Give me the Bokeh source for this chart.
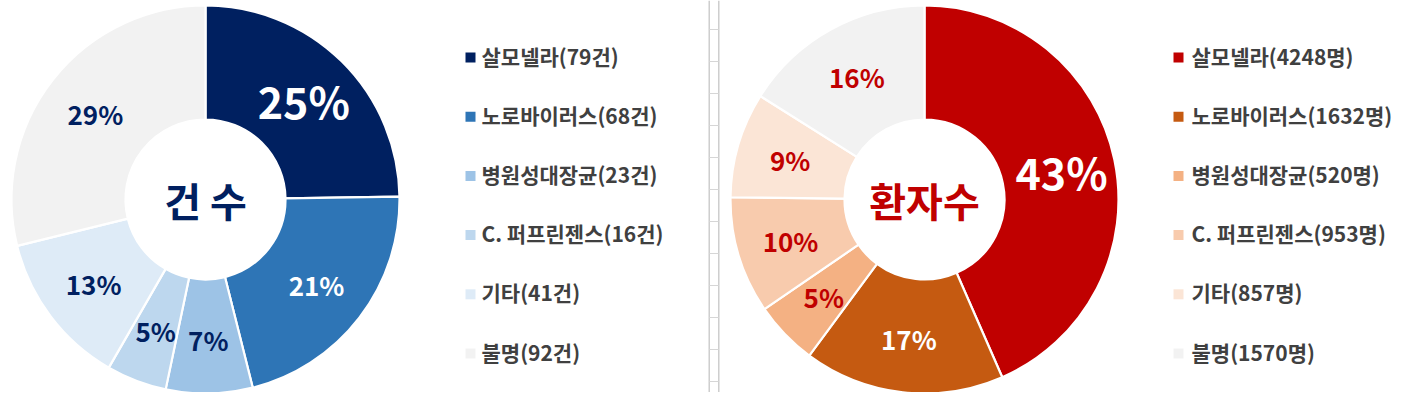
import math
from bokeh.plotting import figure
from bokeh.models import Range1d, ColumnDataSource
from bokeh.core.properties import value
from bokeh.embed import file_html
from bokeh.resources import INLINE

# ---- data ----
categories = ["살모넬라", "노로바이러스", "병원성대장균", "C. 퍼프린젠스", "기타", "불명"]
case_counts = [79, 68, 23, 16, 41, 92]
patient_counts = [4248, 1632, 520, 953, 857, 1570]
case_colors = ["#002060", "#2E75B6", "#9DC3E6", "#BDD7EE", "#DEEBF7", "#F2F2F2"]
patient_colors = ["#C00000", "#C55A11", "#F4B183", "#F8CBAD", "#FBE5D6", "#F2F2F2"]
case_label_colors = ["#FFFFFF", "#FFFFFF", "#002060", "#002060", "#002060", "#002060"]
patient_label_colors = ["#FFFFFF", "#FFFFFF", "#C00000", "#C00000", "#C00000", "#C00000"]
case_title = "건 수"
patient_title = "환자수"
case_unit = "건"
patient_unit = "명"

FONT = "Noto Sans CJK KR"
W, H = 1399, 392

p = figure(width=W, height=H, output_backend="svg", toolbar_location=None,
           x_range=Range1d(0, W), y_range=Range1d(408 - H, 408),
           x_axis_location=None, y_axis_location=None, min_border=0,
           outline_line_color=None, background_fill_color="white",
           border_fill_color="white")
p.grid.visible = False


def sy(y):  # screen y -> data y
    return 408 - y


# spreadsheet grid fragment between the two charts
p.segment(x0=[708.7, 718.3], y0=[sy(0), sy(0)], x1=[708.7, 718.3], y1=[sy(408), sy(408)],
          line_color="#C6C6C6", line_width=1.3)
tick_y = [sy(29 + 32 * k) for k in range(12)]
p.segment(x0=[708.7] * 12, y0=tick_y, x1=[718.3] * 12, y1=tick_y,
          line_color="#D6D6D6", line_width=1)

R_OUT, R_IN, R_LAB = 194, 80, 140


def donut(counts, colors, label_colors, title, title_color, cx, cy, big_idx):
    total = sum(counts)
    fr = [c / total for c in counts]
    starts, ends, lx, ly, labels, sizes = [], [], [], [], [], []
    cum = 0.0
    for i, f in enumerate(fr):
        a0 = math.pi / 2 - cum * 2 * math.pi
        a1 = math.pi / 2 - (cum + f) * 2 * math.pi
        starts.append(a0)
        ends.append(a1)
        mid = cum + f / 2
        lx.append(cx + R_LAB * math.sin(mid * 2 * math.pi))
        ly.append(sy(cy) + R_LAB * math.cos(mid * 2 * math.pi))
        labels.append(f"{round(f * 100)}%")
        sizes.append("43px" if i == big_idx else "26px")
        cum += f
    src = ColumnDataSource(dict(start=starts, end=ends, color=colors))
    p.annular_wedge(x=cx, y=sy(cy), inner_radius=R_IN, outer_radius=R_OUT,
                    start_angle="start", end_angle="end", direction="clock",
                    fill_color="color", line_color="white", line_width=2.2, source=src)
    lsrc = ColumnDataSource(dict(x=lx, y=ly, t=labels, c=label_colors, s=sizes))
    p.text(x="x", y="y", text="t", text_color="c", text_font_size="s",
           text_font=value(FONT), text_font_style="bold", text_align="center",
           text_baseline="middle", source=lsrc)
    p.text(x=[cx], y=[sy(cy)], text=[title], text_color=title_color,
           text_font_size="40px", text_font=value(FONT), text_font_style="bold",
           text_align="center", text_baseline="middle")


donut(case_counts, case_colors, case_label_colors, case_title, "#002060", 205, 199, 0)
donut(patient_counts, patient_colors, patient_label_colors, patient_title, "#C00000", 924, 199, 0)


def legend(counts, colors, unit, x_sq, x_txt):
    ys = [sy(57 + i * 59.2) for i in range(len(categories))]
    p.rect(x=[x_sq] * len(ys), y=ys, width=10, height=10, fill_color=colors,
           line_color=None)
    texts = [f"{c}({n}{unit})" for c, n in zip(categories, counts)]
    p.text(x=[x_txt] * len(ys), y=[y + 2 for y in ys], text=texts, text_color="#404040",
           text_font_size="21px", text_font=value(FONT), text_font_style="bold",
           text_align="left", text_baseline="middle")


legend(case_counts, case_colors, case_unit, 470, 481)
legend(patient_counts, patient_colors, patient_unit, 1178, 1191)

open("out.html", "w").write(file_html(p, INLINE))
